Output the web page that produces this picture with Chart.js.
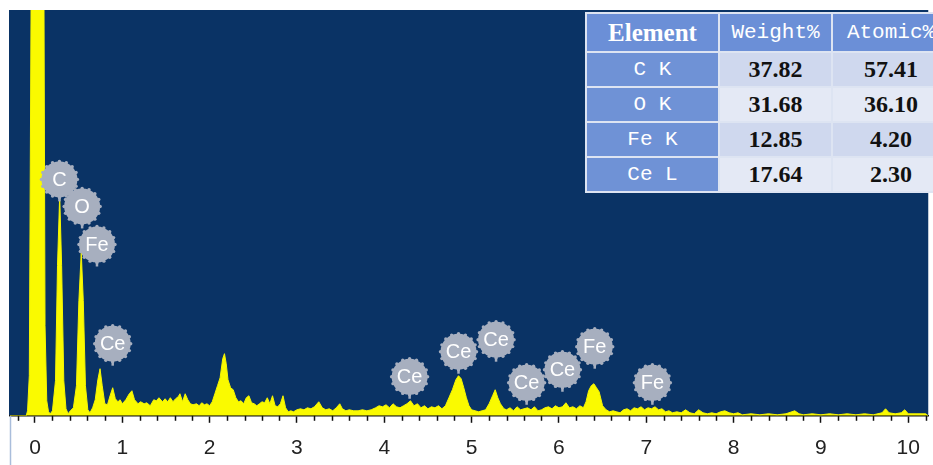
<!DOCTYPE html>
<html>
<head>
<meta charset="utf-8">
<script src="https://cdn.jsdelivr.net/npm/chart.js@4.4.1/dist/chart.umd.min.js"></script>
<style>
  html, body { margin: 0; padding: 0; width: 933px; height: 465px; overflow: hidden; background: #ffffff; }
  #wrap { position: absolute; left: 0; top: 0; width: 933px; height: 474px; }
  #quant {
    position: absolute; left: 585px; top: 12px; width: 366px;
    border-collapse: separate; border-spacing: 2px;
    background: #dde4f2; table-layout: fixed;
  }
  #quant td { padding: 0; text-align: center; white-space: nowrap; overflow: visible; }
  #quant tr.head td { height: 37px; background: #6b8fd7; color: #ffffff; font: 21px "Liberation Mono", monospace; }
  #quant tr.head td.first { font: bold 25px "Liberation Serif", serif; }
  #quant tr.row td { height: 33px; color: #111111; font: bold 24px "Liberation Serif", serif; }
  #quant tr.row td.first { background: #6f92d6; color: #ffffff; font: 21px "Liberation Mono", monospace; }
  #quant tr.odd td { background: #cfd8ee; }
  #quant tr.even td { background: #e4e9f5; }
</style>
</head>
<body>
<div id="wrap"><canvas id="eds" width="933" height="474"></canvas></div>
<table id="quant"></table>
<script>
// EDS spectrum: energy (keV) and counts
const energyKeV = [
  -0.286, -0.1, -0.085, -0.065, -0.04, 0.1, 0.115, 0.135, 0.155, 0.175,
  0.2, 0.235, 0.258, 0.283, 0.305, 0.33, 0.355, 0.38, 0.405, 0.44,
  0.475, 0.503, 0.53, 0.553, 0.578, 0.605, 0.63, 0.66, 0.69, 0.72,
  0.745, 0.77, 0.8, 0.83, 0.86, 0.89, 0.92, 0.95, 0.975, 1.0,
  1.04, 1.08, 1.11, 1.14, 1.18, 1.21, 1.25, 1.28, 1.32, 1.36,
  1.39, 1.42, 1.46, 1.49, 1.52, 1.55, 1.58, 1.61, 1.64, 1.66,
  1.69, 1.72, 1.75, 1.78, 1.81, 1.85, 1.88, 1.91, 1.94, 1.97,
  2.0, 2.03, 2.06, 2.09, 2.12, 2.15, 2.17, 2.19, 2.21, 2.24,
  2.27, 2.3, 2.33, 2.36, 2.39, 2.42, 2.45, 2.48, 2.51, 2.54,
  2.57, 2.6, 2.63, 2.66, 2.69, 2.72, 2.75, 2.78, 2.81, 2.84,
  2.87, 2.9, 2.93, 2.96, 3.0, 3.04, 3.08, 3.12, 3.16, 3.2,
  3.25, 3.29, 3.33, 3.37, 3.41, 3.45, 3.49, 3.52, 3.56, 3.6,
  3.65, 3.7, 3.75, 3.8, 3.85, 3.9, 3.94, 3.98, 4.02, 4.06,
  4.1, 4.14, 4.18, 4.22, 4.26, 4.3, 4.34, 4.38, 4.42, 4.46,
  4.5, 4.54, 4.58, 4.62, 4.66, 4.7, 4.74, 4.78, 4.82, 4.85,
  4.88, 4.91, 4.94, 4.97, 5.0, 5.04, 5.08, 5.12, 5.16, 5.2,
  5.24, 5.27, 5.3, 5.33, 5.37, 5.4, 5.44, 5.48, 5.52, 5.56,
  5.6, 5.64, 5.68, 5.72, 5.76, 5.8, 5.84, 5.88, 5.92, 5.96,
  6.0, 6.04, 6.08, 6.12, 6.16, 6.2, 6.24, 6.28, 6.31, 6.34,
  6.37, 6.4, 6.43, 6.46, 6.5, 6.54, 6.58, 6.62, 6.66, 6.7,
  6.74, 6.78, 6.82, 6.86, 6.9, 6.94, 6.98, 7.02, 7.06, 7.1,
  7.14, 7.18, 7.22, 7.26, 7.3, 7.35, 7.4, 7.45, 7.5, 7.55,
  7.6, 7.65, 7.7, 7.75, 7.8, 7.85, 7.9, 7.95, 8.0, 8.05,
  8.1, 8.2, 8.3, 8.4, 8.5, 8.6, 8.7, 8.75, 8.8, 8.9,
  9.0, 9.1, 9.2, 9.3, 9.4, 9.5, 9.6, 9.7, 9.74, 9.78,
  9.85, 9.92, 9.96, 10.0, 10.1, 10.2, 10.229
];
const counts = [
  0, 0, 5, 40, 500, 500, 90, 15, 4, 2,
  5, 35, 150, 220, 150, 35, 7, 2, 5, 8,
  30, 115, 163, 115, 30, 6, 3, 8, 16, 36,
  47, 30, 12, 11, 20, 28, 17, 14, 16, 12,
  16, 22, 25, 16, 12, 14, 12, 13, 10, 16,
  15, 18, 14, 17, 14, 18, 14, 17, 19, 22,
  14, 22, 16, 12, 11, 12, 10, 13, 11, 12,
  10, 14, 22, 30, 38, 57, 62, 52, 36, 28,
  26, 18, 14, 15, 12, 18, 20, 13, 12, 10,
  12, 14, 13, 18, 12, 20, 10, 9, 12, 20,
  8, 4, 5, 4, 6, 7, 6, 8, 7, 9,
  14, 8, 6, 7, 5, 8, 12, 7, 5, 6,
  5, 5, 6, 5, 6, 8, 10, 9, 11, 8,
  12, 9, 8, 10, 12, 15, 10, 12, 8, 10,
  7, 9, 8, 10, 7, 10, 18, 26, 36, 40,
  37, 28, 18, 10, 6, 5, 4, 5, 6, 12,
  20, 26, 18, 12, 7, 6, 8, 5, 9, 6,
  7, 8, 6, 9, 5, 6, 8, 9, 7, 10,
  8, 9, 13, 8, 9, 7, 10, 8, 14, 25,
  30, 32, 28, 24, 10, 6, 4, 5, 4, 3,
  6, 7, 5, 8, 7, 9, 6, 8, 7, 9,
  6, 7, 4, 5, 3, 4, 3, 6, 3, 2,
  6, 3, 2, 3, 2, 4, 5, 3, 2, 3,
  1, 2, 1, 2, 1, 2, 5, 2, 1, 2,
  1, 2, 1, 2, 1, 2, 1, 3, 7, 3,
  2, 3, 6, 2, 2, 2, 0
];

// Peak identification markers
const peakNames = ['C', 'O', 'Fe', 'Ce', 'Ce', 'Ce', 'Ce', 'Ce', 'Ce', 'Fe', 'Fe'];
const peakEnergies = [0.28, 0.54, 0.71, 0.89, 4.29, 4.85, 5.28, 5.63, 6.04, 6.41, 7.07];
const peakMarkerCounts = [214, 187, 149, 50, 17, 42, 54, 11, 24, 47, 11];

// Quantification table
const tableHeader = ['Element', 'Weight%', 'Atomic%'];
const tableLines = ['C K', 'O K', 'Fe K', 'Ce L'];
const weightPct = ['37.82', '31.68', '12.85', '17.64'];
const atomicPct = ['57.41', '36.10', '4.20', '2.30'];

const xMin = -0.286, xMax = 10.229, yMax = 405;

// Build the table
(function () {
  const t = document.getElementById('quant');
  const widths = [131, 111, 116];
  let html = '<tr class="head">' + tableHeader.map((h, i) =>
    '<td class="' + (i === 0 ? 'first' : '') + '" style="width:' + widths[i] + 'px">' + h + '</td>').join('') + '</tr>';
  tableLines.forEach((line, r) => {
    html += '<tr class="row ' + (r % 2 === 0 ? 'odd' : 'even') + '">' +
      '<td class="first">' + line + '</td><td>' + weightPct[r] + '</td><td>' + atomicPct[r] + '</td></tr>';
  });
  t.innerHTML = html;
})();

// Plot background, frame and minor ticks
const framePlugin = {
  id: 'frame',
  beforeDraw(chart) {
    const { ctx, chartArea: a } = chart;
    ctx.save();
    ctx.fillStyle = '#0a3365';
    ctx.fillRect(a.left - 1, a.top, a.right - a.left + 1, a.bottom - a.top);
    ctx.restore();
  },
  afterDraw(chart) {
    const { ctx, chartArea: a } = chart;
    const xs = chart.scales.x;
    ctx.save();
    ctx.strokeStyle = '#111111';
    ctx.lineWidth = 1.5;
    for (let k = -1; k <= 51; k++) {
      const v = k * 0.2;
      if (k % 5 === 0 || v < xMin || v > xMax) continue;
      const px = Math.round(xs.getPixelForValue(v)) + 0.5;
      ctx.beginPath();
      ctx.moveTo(px, a.bottom);
      ctx.lineTo(px, a.bottom + 5);
      ctx.stroke();
    }
    // thin left rule under the plot
    ctx.strokeStyle = '#a9bddb';
    ctx.lineWidth = 1.5;
    ctx.beginPath();
    ctx.moveTo(a.left + 0.5, a.bottom);
    ctx.lineTo(a.left + 0.5, 474);
    ctx.stroke();
    ctx.restore();
  }
};

// Round element badges with a stem pointing at the peak
const badgePlugin = {
  id: 'badges',
  afterDatasetsDraw(chart) {
    const { ctx } = chart;
    const xs = chart.scales.x, ys = chart.scales.y;
    const r = 18;
    ctx.save();
    peakNames.forEach((name, i) => {
      const px = xs.getPixelForValue(peakEnergies[i]);
      const tip = ys.getPixelForValue(peakMarkerCounts[i]);
      const cy = tip - 22;
      ctx.fillStyle = '#a7afbf';
      ctx.strokeStyle = '#a7afbf';
      ctx.lineWidth = 2.5;
      ctx.beginPath();
      ctx.moveTo(px, cy + r - 2);
      ctx.lineTo(px, tip);
      ctx.stroke();
      ctx.beginPath();
      ctx.arc(px, cy, r, 0, Math.PI * 2);
      ctx.fill();
      for (let k = 0; k < 16; k++) {
        const ang = k * Math.PI * 2 / 16;
        ctx.beginPath();
        ctx.arc(px + Math.cos(ang) * r, cy + Math.sin(ang) * r, 1.7, 0, Math.PI * 2);
        ctx.fill();
      }
      ctx.fillStyle = '#ffffff';
      ctx.font = '20px "Liberation Sans", Arial, sans-serif';
      ctx.textAlign = 'center';
      ctx.textBaseline = 'middle';
      ctx.fillText(name, px, cy + 1);
    });
    ctx.restore();
  }
};

new Chart(document.getElementById('eds'), {
  type: 'line',
  data: {
    datasets: [{
      data: energyKeV.map((e, i) => ({ x: e, y: counts[i] })),
      borderColor: '#f6f600',
      backgroundColor: '#fafa00',
      borderWidth: 1,
      pointRadius: 0,
      tension: 0,
      fill: 'origin'
    }]
  },
  options: {
    responsive: false,
    animation: false,
    devicePixelRatio: 1,
    layout: { padding: { left: 10, right: 3, top: 10, bottom: 0 } },
    plugins: { legend: { display: false }, tooltip: { enabled: false } },
    scales: {
      x: {
        type: 'linear',
        min: xMin,
        max: xMax,
        grid: { drawOnChartArea: false, tickLength: 7, tickColor: '#111111', tickWidth: 1.5 },
        border: { display: true, color: '#111111', width: 1.5 },
        ticks: {
          stepSize: 1,
          includeBounds: false,
          autoSkip: false,
          maxRotation: 0,
          padding: 13,
          color: '#222222',
          font: { family: '"Liberation Sans", Arial, sans-serif', size: 21 }
        }
      },
      y: { display: false, min: 0, max: yMax }
    }
  },
  plugins: [framePlugin, badgePlugin]
});
</script>
</body>
</html>
